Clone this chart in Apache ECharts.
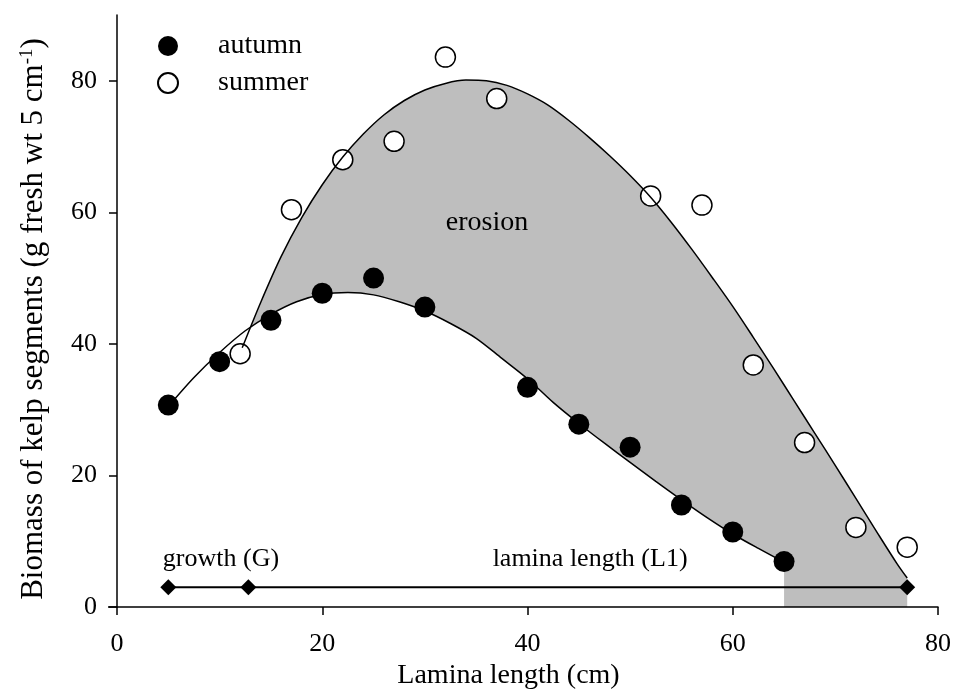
<!DOCTYPE html>
<html>
<head>
<meta charset="utf-8">
<script src="https://cdn.jsdelivr.net/npm/echarts@6/dist/echarts.min.js"></script>
<style>html,body{margin:0;padding:0;background:#fff}#c{width:954px;height:697px}</style>
</head>
<body>
<div id="c"></div>
<script>
// ---- data ----
const seriesNames = ['autumn', 'summer'];
const autumnX = [5, 10, 15, 20, 25, 30, 40, 45, 50, 55, 60, 65];
const autumnY = [30.7, 37.3, 43.6, 47.7, 50.0, 45.6, 33.4, 27.8, 24.3, 15.5, 11.4, 6.9];
const summerX = [12, 17, 22, 27, 32, 37, 52, 57, 62, 67, 72, 77];
const summerY = [38.5, 60.4, 68.0, 70.8, 83.6, 77.3, 62.5, 61.1, 36.8, 25.0, 12.1, 9.1];
// fitted curves
const autumnFitX = [5, 7.5, 10, 12.5, 15, 17.5, 20, 22.5, 25, 27.5, 30, 32.5, 35, 37.5, 40, 42.5, 45, 47.5, 50, 52.5, 55, 57.5, 60, 62.5, 65];
const autumnFitY = [30.5, 34.9, 38.7, 42.0, 44.5, 46.4, 47.5, 47.8, 47.45, 46.4, 45.0, 43.1, 40.85, 37.8, 34.7, 31.1, 27.9, 24.9, 22.0, 19.1, 16.3, 13.6, 11.1, 8.9, 6.8];
const summerFitX = [12.2, 14, 16, 18, 20, 22, 24, 26, 28, 30, 32, 34, 36, 38, 40, 42, 44, 46, 48, 50, 52, 54, 56, 58, 60, 62, 64, 66, 68, 70, 72, 74, 76, 77];
const summerFitY = [39.4, 46.3, 53.3, 59.2, 64.2, 68.4, 71.9, 74.8, 77.0, 78.6, 79.6, 80.1, 80.0, 79.3, 78.0, 76.3, 74.0, 71.4, 68.6, 65.6, 62.3, 58.5, 54.4, 50.1, 45.7, 41.0, 36.2, 31.3, 26.4, 21.5, 16.5, 11.5, 6.6, 4.4];
// horizontal reference line (growth G / lamina length L1)
const refLineX = [5, 12.8, 77];
const refLineY = [3, 3, 3];
const xTicks = [0, 20, 40, 60, 80];
const yTicks = [0, 20, 40, 60, 80];
const annotationTexts = ['growth (G)', 'lamina length (L1)', 'erosion'];
const annotationAt = [[10.13, 7.2], [46.1, 7.2], [36.05, 58.4]];

const zip = (xs, ys) => xs.map((x, i) => [x, ys[i]]);
const FONT = "'Liberation Serif','Times New Roman',serif";

const chart = echarts.init(document.getElementById('c'), null, {renderer: 'canvas'});
const axisCommon = {
  axisLine: {show: true, lineStyle: {color: '#000', width: 1.5}},
  axisTick: {show: true, length: 8, lineStyle: {color: '#000', width: 1.5}},
  splitLine: {show: false},
  z: 10
};
const option = {
  animation: false,
  backgroundColor: '#fff',
  grid: {left: 117, right: 16, top: 15, bottom: 90, containLabel: false},
  legend: {
    data: seriesNames,
    orient: 'vertical',
    left: 157, top: 32, padding: 0,
    itemWidth: 20, itemHeight: 20, itemGap: 9,
    icon: 'circle',
    textStyle: {fontSize: 28, fontFamily: FONT, color: '#000', padding: [0, 0, 0, 35], lineHeight: 28}
  },
  xAxis: Object.assign({}, axisCommon, {
    type: 'value', min: 0, max: 80, interval: 20,
    axisLabel: {fontSize: 26, fontFamily: FONT, color: '#000', margin: 24},
    name: 'Lamina length (cm)', nameLocation: 'middle', nameGap: 55,
    nameTextStyle: {fontSize: 28, fontFamily: FONT, color: '#000', padding: [0, 38, 0, 0]}
  }),
  yAxis: Object.assign({}, axisCommon, {
    type: 'value', min: 0, max: 90,
    axisTick: {show: true, length: 8, lineStyle: {color: '#000', width: 1.5}, customValues: yTicks},
    axisLabel: {fontSize: 26, fontFamily: FONT, color: '#000', margin: 20, customValues: yTicks},
    name: 'Biomass of kelp segments (g fresh wt 5 cm{sup|-1})',
    nameLocation: 'middle', nameGap: 68,
    nameTextStyle: {
      fontSize: 31, fontFamily: FONT, color: '#000', padding: [0, 16, 0, 0],
      rich: {sup: {fontSize: 19, fontFamily: FONT, color: '#000', verticalAlign: 'top', padding: [0, 0, 12, 0]}}
    }
  }),
  series: [
    {type: 'line', name: 'summerArea', data: zip(summerFitX, summerFitY), smooth: 0.3, symbol: 'none',
     lineStyle: {width: 0, opacity: 0}, areaStyle: {color: '#bebebe', opacity: 1}, silent: true, z: 1},
    {type: 'line', name: 'autumnArea', data: zip(autumnFitX, autumnFitY), smooth: 0.3, symbol: 'none',
     lineStyle: {width: 0, opacity: 0}, areaStyle: {color: '#ffffff', opacity: 1}, silent: true, z: 1.5},
    {type: 'scatter', name: seriesNames[0], data: zip(autumnX, autumnY), symbol: 'circle', symbolSize: 21,
     itemStyle: {color: '#000', borderColor: '#000', borderWidth: 0, opacity: 1}, z: 3},
    {type: 'scatter', name: seriesNames[1], data: zip(summerX, summerY), symbol: 'circle', symbolSize: 20,
     itemStyle: {color: '#fff', borderColor: '#000', borderWidth: 1.5, opacity: 1}, z: 3},
    {type: 'line', name: 'summerFit', data: zip(summerFitX, summerFitY), smooth: 0.3, symbol: 'none',
     lineStyle: {color: '#000', width: 1.5}, z: 4},
    {type: 'line', name: 'autumnFit', data: zip(autumnFitX, autumnFitY), smooth: 0.3, symbol: 'none',
     lineStyle: {color: '#000', width: 1.5}, z: 4},
    {type: 'line', name: 'ref', data: zip(refLineX, refLineY), symbol: 'diamond', symbolSize: 16,
     showAllSymbol: true, itemStyle: {color: '#000'}, lineStyle: {color: '#000', width: 2}, z: 5}
  ]
};
chart.setOption(option);

const px = (x, y) => chart.convertToPixel({gridIndex: 0}, [x, y]);
const p0 = px(0, 0);
const graphics = [
  {type: 'line', shape: {x1: p0[0] - 9, y1: p0[1], x2: p0[0], y2: p0[1]}, style: {stroke: '#000', lineWidth: 1.5}, z: 20}
];
annotationTexts.forEach((t, i) => {
  const p = px(annotationAt[i][0], annotationAt[i][1]);
  graphics.push({type: 'text', x: p[0], y: p[1], z: 20,
    style: {text: t, fontSize: i === 2 ? 28 : 26, fontFamily: FONT, fill: '#000', align: 'center', verticalAlign: 'middle'}});
});
chart.setOption({graphic: graphics});
</script>
</body>
</html>
